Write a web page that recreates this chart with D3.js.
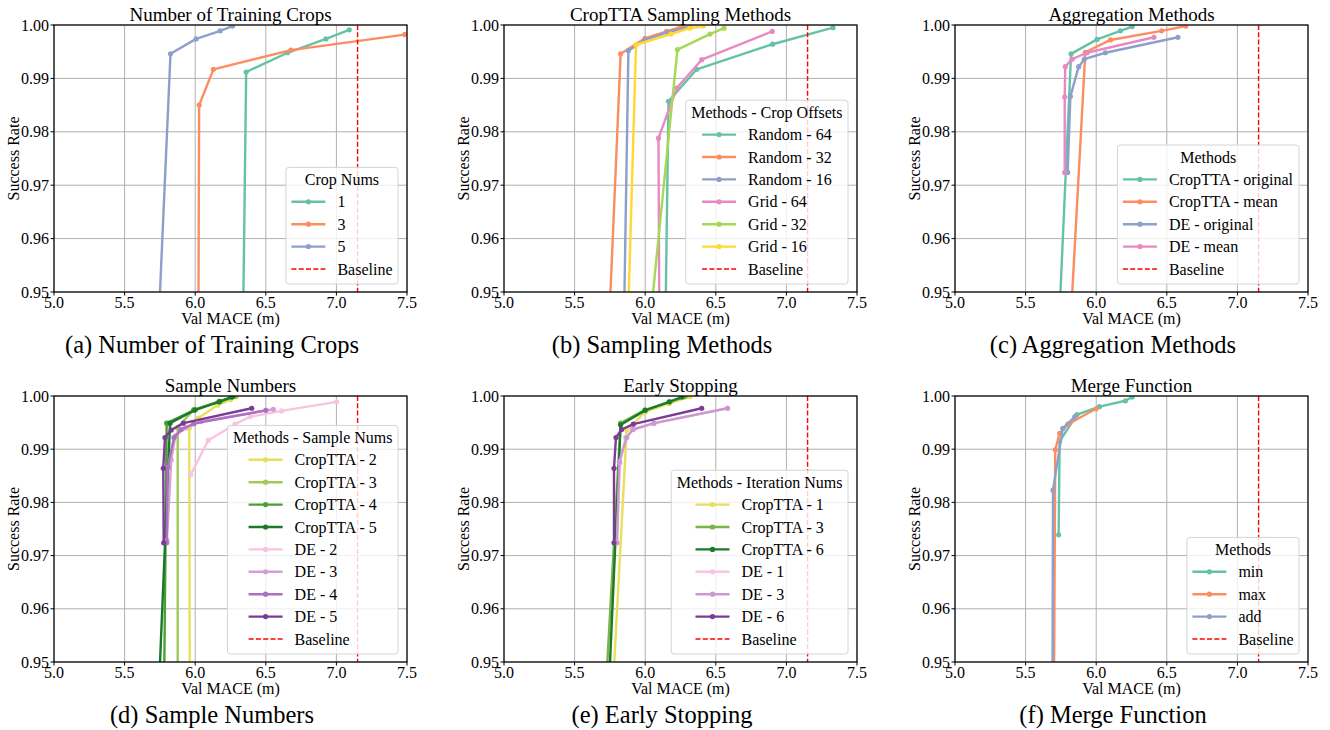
<!DOCTYPE html>
<html>
<head>
<meta charset="utf-8">
<script src="https://cdn.jsdelivr.net/npm/d3@7/dist/d3.min.js"></script>
<style>
  body { margin: 0; background: #fff; }
  svg { font-family: "Liberation Serif", "Times New Roman", serif; }
</style>
</head>
<body>
<svg id="fig" width="1330" height="730"></svg>
<script>
// ---- data ----
var xTicks = [5.0, 5.5, 6.0, 6.5, 7.0, 7.5];
var yTicks = [0.95, 0.96, 0.97, 0.98, 0.99, 1.00];
var baselineMace = 7.15;

var panelTitles = ["Number of Training Crops", "CropTTA Sampling Methods", "Aggregation Methods",
                   "Sample Numbers", "Early Stopping", "Merge Function"];
var captions = ["(a) Number of Training Crops", "(b) Sampling Methods", "(c) Aggregation Methods",
                "(d) Sample Numbers", "(e) Early Stopping", "(f) Merge Function"];
var legendTitles = ["Crop Nums", "Methods - Crop Offsets", "Methods",
                    "Methods - Sample Nums", "Methods - Iteration Nums", "Methods"];

// (a) number of training crops: [val MACE, success rate]
var cropNames = ["1", "3", "5"];
var cropPoints = [
  [[6.337,0.94],[6.361,0.9912],[6.654,0.9948],[6.926,0.9974],[7.091,0.9991]],
  [[6.022,0.94],[6.028,0.9850],[6.129,0.9917],[6.678,0.9953],[7.483,0.9982]],
  [[5.734,0.94],[5.825,0.9946],[6.007,0.9974],[6.177,0.9989],[6.264,0.9998]]
];

// (b) sampling methods
var samplingNames = ["Random - 64", "Random - 32", "Random - 16", "Grid - 64", "Grid - 32", "Grid - 16"];
var samplingPoints = [
  [[6.141,0.94],[6.165,0.9857],[6.365,0.9917],[6.902,0.9964],[7.330,0.9995]],
  [[5.738,0.94],[5.826,0.9946],[5.999,0.9975],[6.152,0.9988],[6.270,0.9998]],
  [[5.847,0.94],[5.881,0.9952],[5.999,0.9972],[6.157,0.9986],[6.317,0.9997]],
  [[6.101,0.94],[6.094,0.9788],[6.224,0.9882],[6.400,0.9935],[6.900,0.9988]],
  [[6.018,0.94],[6.228,0.9954],[6.459,0.9983],[6.558,0.9994]],
  [[5.873,0.94],[5.935,0.9963],[6.183,0.9983],[6.317,0.9994],[6.412,0.9998]]
];

// (c) aggregation methods
var aggNames = ["CropTTA - original", "CropTTA - mean", "DE - original", "DE - mean"];
var aggPoints = [
  [[5.730,0.94],[5.822,0.9946],[6.006,0.9973],[6.172,0.9989],[6.255,0.9997]],
  [[5.810,0.94],[5.923,0.9949],[6.101,0.9972],[6.463,0.9989],[6.634,0.9998]],
  [[5.798,0.9724],[5.817,0.9866],[5.876,0.9922],[5.916,0.9936],[6.065,0.9948],[6.579,0.9977]],
  [[5.777,0.9724],[5.777,0.9865],[5.781,0.9922],[5.829,0.9936],[5.935,0.9948],[6.409,0.9977]]
];

// (d) sample numbers
var sampleNames = ["CropTTA - 2", "CropTTA - 3", "CropTTA - 4", "CropTTA - 5",
                   "DE - 2", "DE - 3", "DE - 4", "DE - 5"];
var samplePoints = [
  [[5.962,0.94],[5.958,0.9940],[6.020,0.9958],[6.160,0.9983],[6.250,0.9993]],
  [[5.876,0.94],[5.876,0.9940],[5.990,0.9975],[6.180,0.9990],[6.290,0.9999]],
  [[5.778,0.94],[5.798,0.9949],[5.990,0.9973],[6.170,0.9990],[6.270,0.9999]],
  [[5.735,0.94],[5.822,0.9949],[6.000,0.9974],[6.170,0.9989],[6.260,0.9998]],
  [[5.968,0.9852],[6.093,0.9917],[6.282,0.9947],[6.388,0.9961],[6.612,0.9972],[7.002,0.9989]],
  [[5.800,0.9729],[5.830,0.9880],[5.860,0.9925],[5.930,0.9940],[6.040,0.9952],[6.553,0.9975]],
  [[5.798,0.9724],[5.805,0.9866],[5.850,0.9922],[5.900,0.9937],[5.990,0.9948],[6.500,0.9973]],
  [[5.777,0.9724],[5.774,0.9864],[5.786,0.9922],[5.830,0.9936],[5.916,0.9949],[6.400,0.9977]]
];

// (e) early stopping
var stopNames = ["CropTTA - 1", "CropTTA - 3", "CropTTA - 6", "DE - 1", "DE - 3", "DE - 6"];
var stopPoints = [
  [[5.761,0.94],[5.869,0.9936],[6.000,0.9970],[6.170,0.9986],[6.317,0.9999]],
  [[5.711,0.94],[5.826,0.9949],[5.999,0.9974],[6.176,0.9989],[6.282,0.9999]],
  [[5.734,0.94],[5.826,0.9946],[6.000,0.9973],[6.170,0.9989],[6.260,0.9998]],
  [[5.800,0.9724],[5.822,0.9874],[5.860,0.9922],[5.920,0.9937],[6.060,0.9948],[6.580,0.9977]],
  [[5.800,0.9724],[5.817,0.9877],[5.869,0.9922],[5.911,0.9937],[6.062,0.9949],[6.584,0.9977]],
  [[5.779,0.9724],[5.779,0.9864],[5.793,0.9922],[5.833,0.9937],[5.916,0.9947],[6.400,0.9977]]
];

// (f) merge function
var mergeNames = ["min", "max", "add"];
var mergePoints = [
  [[5.734,0.9739],[5.741,0.9915],[5.864,0.9965],[6.023,0.9980],[6.207,0.9991],[6.255,0.9998]],
  [[5.700,0.94],[5.710,0.9899],[5.741,0.9930],[5.800,0.9947],[5.999,0.9976]],
  [[5.690,0.94],[5.694,0.9823],[5.763,0.9939],[5.848,0.9961]]
];

// ---- colours ----
var set2 = ["#66c2a5", "#fc8d62", "#8da0cb", "#e78ac3", "#a6d854", "#ffd92f"];
var sampleColours = ["#e6e05a", "#a3c957", "#4e9e34", "#197a2b", "#f9c4e0", "#d49fd5", "#ac70c0", "#7b3b96"];
var stopColours = ["#e6e05a", "#7ab445", "#197a2b", "#f9c4e0", "#cc98d0", "#7b3b96"];

var panels = [
  {names: cropNames, points: cropPoints, colours: set2},
  {names: samplingNames, points: samplingPoints, colours: set2},
  {names: aggNames, points: aggPoints, colours: set2},
  {names: sampleNames, points: samplePoints, colours: sampleColours},
  {names: stopNames, points: stopPoints, colours: stopColours},
  {names: mergeNames, points: mergePoints, colours: set2}
];

// ---- layout ----
var colLeft = [54, 504, 955];
var rowTop = [25, 396];
var plotW = 353;
var plotH = [267, 266];
var fs = 16;

var svg = d3.select("#fig");

panels.forEach(function(p, i){
    var col = i % 3, row = Math.floor(i / 3);
    var left = colLeft[col], top = rowTop[row];
    var w = plotW, h = plotH[row];

    var x = d3.scaleLinear().domain([5.0, 7.5]).range([left, left + w]);
    var y = d3.scaleLinear().domain([0.95, 1.00]).range([top + h, top]);

    var g = svg.append("g");

    svg.append("clipPath").attr("id", "clip" + i)
      .append("rect").attr("x", left).attr("y", top).attr("width", w).attr("height", h);

    // grid
    g.append("g").selectAll("line").data(xTicks).enter().append("line")
      .attr("x1", d => x(d)).attr("x2", d => x(d))
      .attr("y1", top).attr("y2", top + h)
      .attr("stroke", "#b0b0b0").attr("stroke-width", 1);
    g.append("g").selectAll("line").data(yTicks).enter().append("line")
      .attr("x1", left).attr("x2", left + w)
      .attr("y1", d => y(d)).attr("y2", d => y(d))
      .attr("stroke", "#b0b0b0").attr("stroke-width", 1);

    // series
    var plotG = g.append("g").attr("clip-path", "url(#clip" + i + ")");
    var line = d3.line().x(d => x(d[0])).y(d => y(d[1]));
    p.points.forEach(function(pts, k){
        plotG.append("path").datum(pts)
          .attr("d", line).attr("fill", "none")
          .attr("stroke", p.colours[k]).attr("stroke-width", 2.4)
          .attr("stroke-linejoin", "round");
        plotG.selectAll(null).data(pts).enter().append("circle")
          .attr("cx", d => x(d[0])).attr("cy", d => y(d[1])).attr("r", 2.6)
          .attr("fill", p.colours[k]);
    });

    // baseline
    plotG.append("line")
      .attr("x1", x(baselineMace)).attr("x2", x(baselineMace))
      .attr("y1", top).attr("y2", top + h)
      .attr("stroke", "#ff0000").attr("stroke-width", 1.4)
      .attr("stroke-dasharray", "5,2.3");

    // frame
    g.append("rect").attr("x", left).attr("y", top).attr("width", w).attr("height", h)
      .attr("fill", "none").attr("stroke", "#000").attr("stroke-width", 1.2);

    // ticks
    g.append("g").selectAll("line").data(xTicks).enter().append("line")
      .attr("x1", d => x(d)).attr("x2", d => x(d))
      .attr("y1", top + h).attr("y2", top + h + 3.5)
      .attr("stroke", "#000").attr("stroke-width", 1);
    g.append("g").selectAll("line").data(yTicks).enter().append("line")
      .attr("x1", left - 3.5).attr("x2", left)
      .attr("y1", d => y(d)).attr("y2", d => y(d))
      .attr("stroke", "#000").attr("stroke-width", 1);

    g.append("g").selectAll("text").data(xTicks).enter().append("text")
      .attr("x", d => x(d)).attr("y", top + h + 16)
      .attr("text-anchor", "middle").attr("font-size", fs)
      .text(d => d3.format(".1f")(d));
    g.append("g").selectAll("text").data(yTicks).enter().append("text")
      .attr("x", left - 5).attr("y", d => y(d)).attr("dy", "0.35em")
      .attr("text-anchor", "end").attr("font-size", fs)
      .text(d => d3.format(".2f")(d));

    // labels
    g.append("text").attr("x", left + w / 2).attr("y", top + h + 32)
      .attr("text-anchor", "middle").attr("font-size", fs).text("Val MACE (m)");
    g.append("text")
      .attr("transform", "translate(" + (left - 35) + "," + (top + h / 2) + ") rotate(-90)")
      .attr("text-anchor", "middle").attr("font-size", fs).text("Success Rate");
    g.append("text").attr("x", left + w / 2).attr("y", top - 4)
      .attr("text-anchor", "middle").attr("font-size", 19).text(panelTitles[i]);
    g.append("text").attr("x", left + 158).attr("y", top + h + 61)
      .attr("text-anchor", "middle").attr("font-size", 24.5).text(captions[i]);

    // legend (entries block centred under the title, as matplotlib does)
    var items = p.names.map(function(n, k){ return {label: n, colour: p.colours[k]}; });
    items.push({label: "Baseline", dashed: true});
    var lg = g.append("g");
    var box = lg.append("rect");
    var title = lg.append("text").attr("font-size", fs).text(legendTitles[i]);
    var labels = lg.selectAll("text.lab").data(items).enter().append("text")
      .attr("class", "lab").attr("font-size", fs).text(d => d.label);
    var maxLab = 0;
    labels.each(function(){ maxLab = Math.max(maxLab, this.getBBox().width); });
    var titleW = title.node().getBBox().width;
    var pad = 5.5;
    var contentW = 46 + maxLab;
    var innerW = Math.max(contentW, titleW);
    var lw = innerW + 2 * pad;
    var lh = 27 + 22.4 * items.length;
    var lx = left + w - 9 - lw, ly = top + h - 8 - lh;
    var hx = lx + pad + (innerW - contentW) / 2;

    box.attr("x", lx).attr("y", ly).attr("width", lw).attr("height", lh).attr("rx", 3)
      .attr("fill", "#fff").attr("fill-opacity", 0.8)
      .attr("stroke", "#d4d4d4").attr("stroke-width", 1);
    title.attr("x", lx + lw / 2).attr("y", ly + 12).attr("dy", "0.35em").attr("text-anchor", "middle");
    labels.attr("x", hx + 46).attr("y", (d, k) => ly + 12 + 22.4 * (k + 1)).attr("dy", "0.35em");
    items.forEach(function(d, k){
        var cy = ly + 12 + 22.4 * (k + 1);
        if (d.dashed) {
            lg.append("line").attr("x1", hx).attr("x2", hx + 34).attr("y1", cy).attr("y2", cy)
              .attr("stroke", "#ff0000").attr("stroke-width", 1.4).attr("stroke-dasharray", "5,2.3");
        } else {
            lg.append("line").attr("x1", hx).attr("x2", hx + 34).attr("y1", cy).attr("y2", cy)
              .attr("stroke", d.colour).attr("stroke-width", 2.4);
            lg.append("circle").attr("cx", hx + 17).attr("cy", cy).attr("r", 2.6).attr("fill", d.colour);
        }
    });
});
</script>
</body>
</html>
